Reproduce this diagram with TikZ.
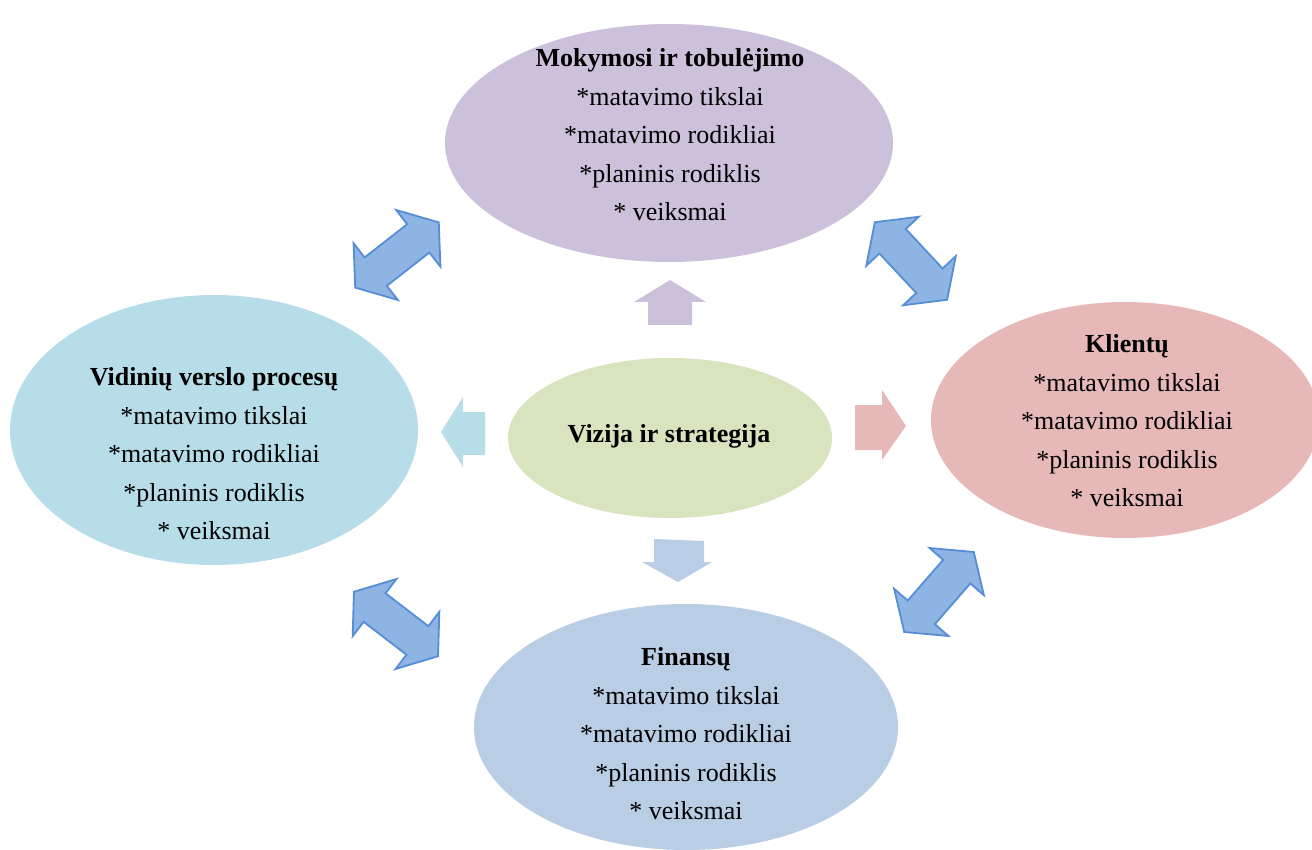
\documentclass[tikz,border=0pt]{standalone}
\usepackage{fontspec}
\setmainfont{Liberation Serif}
\usetikzlibrary{shapes.geometric}

\definecolor{learnfill}{HTML}{CCC1DA}
\definecolor{innerfill}{HTML}{B7DEE8}
\definecolor{visionfill}{HTML}{D7E4BD}
\definecolor{clientfill}{HTML}{E6B9B8}
\definecolor{financefill}{HTML}{B9CDE5}
\definecolor{dblfill}{HTML}{8EB4E3}
\definecolor{dbledge}{HTML}{558ED5}

\tikzset{
  persp/.style={ellipse, inner sep=0pt, draw=none},
  perspText/.style={align=center, font=\fontsize{26}{38.5}\selectfont, text=black},
  dblstyle/.style={fill=dblfill, draw=dbledge, line width=1.8pt, line join=miter},
  pics/dblarrow/.style={code={
    \draw[dblstyle] (-53,0) -- (-27,36) -- (-27,18) -- (27,18) -- (27,36)
      -- (53,0) -- (27,-36) -- (27,-18) -- (-27,-18) -- (-27,-36) -- cycle;
  }}
}

\begin{document}
\begin{tikzpicture}[x=1pt, y=-1pt]
\useasboundingbox (0,0) rectangle (1312,850);

% perspective ellipses
\node[persp, fill=learnfill, minimum width=448pt, minimum height=238pt] (learn) at (669,143) {};
\node[persp, fill=innerfill, minimum width=408pt, minimum height=270pt] (inner) at (214,430) {};
\node[persp, fill=visionfill, minimum width=324pt, minimum height=160pt] (vision) at (670,438) {};
\node[persp, fill=clientfill, minimum width=388pt, minimum height=236pt] (client) at (1125,420) {};
\node[persp, fill=financefill, minimum width=424pt, minimum height=246pt] (finance) at (686,727) {};

% texts
\node[perspText] (learntext) at (670,135) {\textbf{Mokymosi ir tobulėjimo}\\*matavimo tikslai\\*matavimo rodikliai\\*planinis rodiklis\\* veiksmai};
\node[perspText] (innertext) at (214,454) {\textbf{Vidinių verslo procesų}\\*matavimo tikslai\\*matavimo rodikliai\\*planinis rodiklis\\* veiksmai};
\node[perspText] (clienttext) at (1127,421) {\textbf{Klientų}\\*matavimo tikslai\\*matavimo rodikliai\\*planinis rodiklis\\* veiksmai};
\node[perspText] (financetext) at (686,734) {\textbf{Finansų}\\*matavimo tikslai\\*matavimo rodikliai\\*planinis rodiklis\\* veiksmai};
\node[perspText] (visiontext) at (669,436) {\textbf{Vizija ir strategija}};

% small block arrows from the vision
\fill[learnfill] (670,280) -- (706,302) -- (692,302) -- (692,325) -- (648,325) -- (648,302) -- (634,302) -- cycle;
\fill[innerfill] (441,432) -- (463,397) -- (463,412) -- (485,412) -- (485,455) -- (463,455) -- (463,467) -- cycle;
\fill[financefill] (654,539) -- (704,541) -- (704,562) -- (712,562) -- (678,582) -- (642,562) -- (654,562) -- cycle;
\fill[clientfill] (855,405) -- (882,405) -- (882,390) -- (906,426) -- (882,460) -- (882,450) -- (855,450) -- cycle;

% double arrows between neighbouring perspectives
\pic[rotate=38] at (397,255) {dblarrow};
\pic[rotate=-37.5] at (396,624) {dblarrow};
\pic[rotate=-47] at (911,261) {dblarrow};
\pic[rotate=49] at (939,592) {dblarrow};
\end{tikzpicture}
\end{document}
